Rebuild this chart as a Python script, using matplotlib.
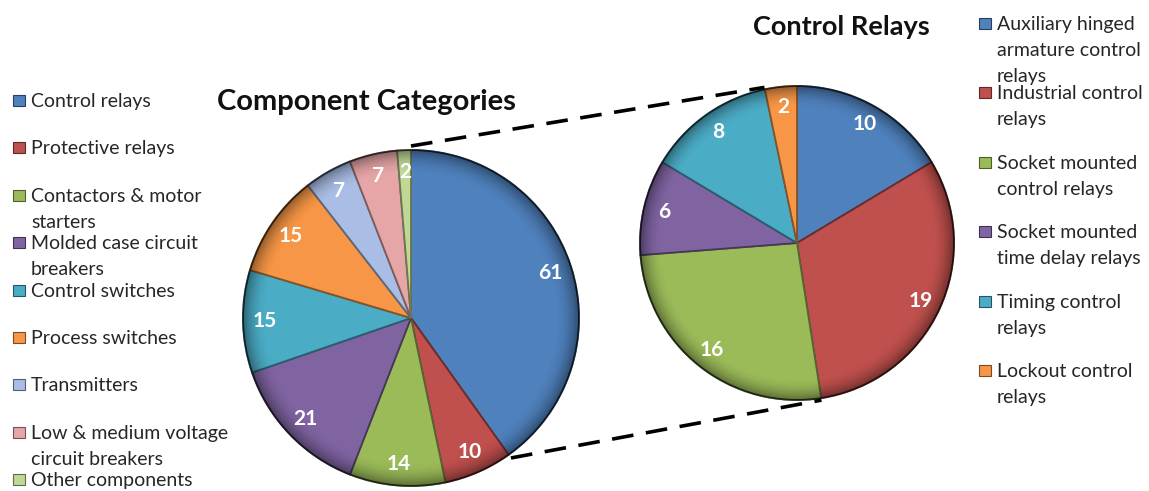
import matplotlib.pyplot as plt
import numpy as np
from matplotlib.patches import Circle, Rectangle

plt.rcParams['font.family'] = ['Lato', 'DejaVu Sans']

# Main breakdown of components
categories = ["Control relays", "Protective relays", "Contactors & motor\nstarters",
              "Molded case circuit\nbreakers", "Control switches", "Process switches",
              "Transmitters", "Low & medium voltage\ncircuit breakers", "Other components"]
category_counts = [61, 10, 14, 21, 15, 15, 7, 7, 2]
category_colors = ["#4F81BD", "#C0504D", "#9BBB59", "#8064A2", "#4BACC6",
                   "#F79646", "#A9BDE5", "#E6A5A7", "#C0D895"]

# Split of the control relays slice
relay_types = ["Auxiliary hinged\narmature control\nrelays", "Industrial control\nrelays",
               "Socket mounted\ncontrol relays", "Socket mounted\ntime delay relays",
               "Timing control\nrelays", "Lockout control\nrelays"]
relay_counts = [10, 19, 16, 6, 8, 2]
relay_colors = ["#4F81BD", "#C0504D", "#9BBB59", "#8064A2", "#4BACC6", "#F79646"]

W, H = 1149, 491


def darker(color, f=0.6):
    r, g, b = plt.matplotlib.colors.to_rgb(color)
    return (r * f, g * f, b * f)


def draw_pie(ax, counts, colors, center, radius):
    total = sum(counts)
    wedges, _, autotexts = ax.pie(
        counts, colors=colors, startangle=90, counterclock=False,
        center=center, radius=radius, frame=True,
        autopct=lambda p: f"{round(p * total / 100):d}", pctdistance=0.87,
        wedgeprops={'linewidth': 1.3},
        textprops={'color': 'white', 'fontsize': 15, 'fontweight': 'bold'},
    )
    for w, c in zip(wedges, colors):
        w.set_edgecolor(darker(c, 0.55))

    # soft bevel: darken towards the rim
    n = 300
    yy, xx = np.mgrid[-1:1:n * 1j, -1:1:n * 1j]
    rr = np.sqrt(xx ** 2 + yy ** 2)
    shade = np.zeros((n, n, 4))
    shade[..., 3] = np.clip((rr - 0.86) / 0.14, 0, 1) ** 2 * 0.4
    im = ax.imshow(shade, extent=(center[0] - radius, center[0] + radius,
                                  center[1] - radius, center[1] + radius),
                   origin='lower', zorder=3, interpolation='bilinear')
    im.set_clip_path(Circle(center, radius, transform=ax.transData))
    ax.add_patch(Circle(center, radius, fill=False, edgecolor=(0, 0, 0, 0.5),
                        linewidth=1.3, zorder=4))
    for t in autotexts:
        t.set_zorder(5)
    return wedges


def point_on(center, radius, angle_deg):
    a = np.deg2rad(angle_deg)
    return center[0] + radius * np.cos(a), center[1] + radius * np.sin(a)


fig = plt.figure(figsize=(W / 100, H / 100), dpi=100)
ax = fig.add_axes([0, 0, 1, 1])

left_center, left_r = (411, H - 318), 168
right_center, right_r = (797, H - 243), 157

draw_pie(ax, category_counts, category_colors, left_center, left_r)
draw_pie(ax, relay_counts, relay_colors, right_center, right_r)

# dashed connectors from the control relays slice to the second pie
split_angle = 90 - 360 * category_counts[0] / sum(category_counts)
top_right = 90 + 360 * relay_counts[-1] / sum(relay_counts)
bottom_right = 90 - 360 * sum(relay_counts[:2]) / sum(relay_counts)
for a1, a2 in [(90, top_right), (split_angle, bottom_right)]:
    p1 = point_on(left_center, left_r + 4, a1)
    p2 = point_on(right_center, right_r + 2, a2)
    ax.plot([p1[0], p2[0]], [p1[1], p2[1]], color='black', linewidth=2.6,
            dashes=(6, 3.5), solid_capstyle='butt', zorder=2)

ax.text(366, H - 110, "Component Categories", fontsize=21, fontweight='bold',
        ha='center', va='baseline', color='#111111')
ax.text(841, H - 35, "Control Relays", fontsize=19.5, fontweight='bold',
        ha='center', va='baseline', color='#111111')


def draw_legend(labels, colors, x, y0, step, line_step=26):
    for i, (lab, c) in enumerate(zip(labels, colors)):
        base = y0 + i * step
        ax.add_patch(Rectangle((x, H - base + 1), 12, 11, facecolor=c,
                               edgecolor=darker(c, 0.5), linewidth=0.8))
        for k, line in enumerate(lab.split("\n")):
            ax.text(x + 18, H - (base + k * line_step), line, fontsize=14,
                    ha='left', va='baseline', color='#262626')


draw_legend(categories, category_colors, 13, 107, 47.4)
draw_legend(relay_types, relay_colors, 979, 30, 69.4)

ax.set_xlim(0, W)
ax.set_ylim(0, H)
ax.set_aspect('equal')
ax.axis('off')

fig.savefig("out.png", dpi=100, facecolor='white')
